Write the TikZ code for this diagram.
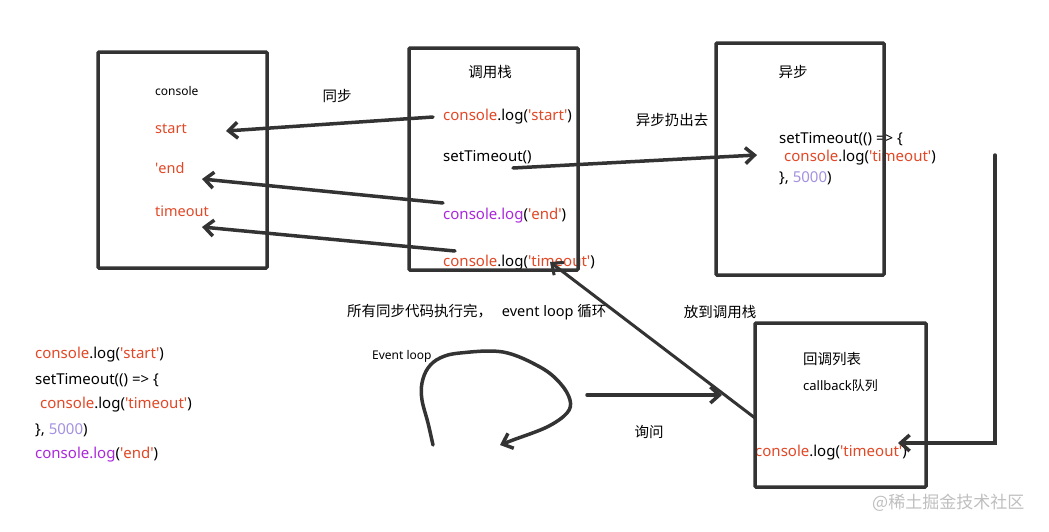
\documentclass[tikz,border=0pt]{standalone}
\usepackage{fontspec}
\setmainfont{Noto Sans}
\newfontfamily\cjk{Noto Sans CJK SC}
\usetikzlibrary{arrows.meta}
\definecolor{jsred}{RGB}{226,72,38}
\definecolor{jspurple}{RGB}{170,40,220}
\definecolor{jsnum}{RGB}{165,145,225}
\definecolor{ink}{RGB}{51,51,51}
\newcommand{\q}{\textquotesingle}
\newcommand{\jslog}[1]{\textcolor{jsred}{console}.log(\textcolor{jsred}{\q#1\q})}

\begin{document}
\begin{tikzpicture}[x=1pt,y=-1pt,
  box/.style={draw=ink,line width=3.5pt,rounded corners=1pt},
  arr/.style={draw=ink,line width=3.5pt,line cap=round,-{Straight Barb[length=9pt,width=16pt]}},
  code/.style={anchor=west,inner sep=0pt,font=\fontsize{15}{18}\selectfont},
  result/.style={anchor=west,inner sep=0pt,text=jsred,font=\fontsize{14.5}{17}\selectfont},
  zh/.style={inner sep=0pt,font=\cjk\fontsize{14.5}{17}\selectfont},
  small/.style={anchor=west,inner sep=0pt,font=\fontsize{12}{14}\selectfont}]
  \useasboundingbox[fill=white] (0,0) rectangle (1049,531);
  % console
  \node[small] (con) at (155,91) {console};
  \node[result] (outStart) at (155,129) {start};
  \node[result] (outEnd) at (155,168) {\q end};
  \node[result] (outTimeout) at (155,211) {timeout};
  \node[zh] (syncLabel) at (337,96) {同步};
  % call stack
  \node[zh] (stackTitle) at (490,72) {调用栈};
  \node[code] (stStart) at (443,117) {\jslog{start}};
  \node[code] (stSet) at (443,157) {setTimeout()};
  \node[code] (stEnd) at (443,216) {\textcolor{jspurple}{console.log}(\textcolor{jsred}{\q end\q})};
  \node[code] (stTimeout) at (443,263) {\jslog{timeout}};
  % async
  \node[zh] (asyncTitle) at (793,72) {异步};
  \node[zh] (throwLabel) at (672,120) {异步扔出去};
  \node[code] (asA) at (779,139) {setTimeout(() => \{};
  \node[code] (asB) at (784,158) {\jslog{timeout}};
  \node[code] (asC) at (779,178) {\}, \textcolor{jsnum}{5000})};
  % event loop
  \node[zh,anchor=west] (allDone) at (347,312) {所有同步代码执行完，\ \ \ \fontspec{Noto Sans}event loop \cjk 循环};
  \node[zh] (putBack) at (720,312) {放到调用栈};
  \node[small] (loopLabel) at (372,356) {Event loop};
  \node[zh] (ask) at (649,432) {询问};
  % callback queue
  \node[zh,anchor=west] (queueTitle) at (803,359) {回调列表};
  \node[small,font=\fontsize{13}{16}\selectfont] (queueSub) at (803,386) {callback{\cjk 队列}};
  \node[code] (queueLog) at (755,453) {\jslog{timeout}};
  % source
  \node[code] (code1) at (35,355) {\jslog{start}};
  \node[code] (code2) at (35,380) {setTimeout(() => \{};
  \node[code] (code3) at (40,405) {\jslog{timeout}};
  \node[code] (code4) at (35,430) {\}, \textcolor{jsnum}{5000})};
  \node[code] (code5) at (35,455) {\textcolor{jspurple}{console.log}(\textcolor{jsred}{\q end\q})};
  \node[zh,anchor=west,text=gray!50,font=\cjk\fontsize{17}{20}\selectfont] (mark) at (872,503) {@稀土掘金技术社区};
  % boxes
  \draw[box] (98,52) rectangle (267,268);
  \draw[box] (409,48) rectangle (578,270);
  \draw[box] (716,43) rectangle (884,275);
  \draw[box] (755,323) rectangle (926,487);
  % arrows
  \coordinate (a1s) at (433,117); \coordinate (a1e) at (226,131);
  \coordinate (a2s) at (443,203); \coordinate (a2e) at (202,179);
  \coordinate (a3s) at (455,251); \coordinate (a3e) at (202,227);
  \coordinate (a4s) at (513,168); \coordinate (a4e) at (757,155);
  \coordinate (cbTop) at (995,155); \coordinate (cbIn) at (898,443);
  \coordinate (upS) at (755,418); \coordinate (upE) at (550,262);
  \coordinate (askS) at (587,395); \coordinate (askE) at (722,395);
  \draw[arr] (a1s) -- (a1e);
  \draw[arr] (a2s) -- (a2e);
  \draw[arr] (a3s) -- (a3e);
  \draw[arr] (a4s) -- (a4e);
  \draw[arr] (cbTop) |- (cbIn);
  \draw[arr,line width=3pt] (upS) -- (upE);
  \draw[arr] (askS) -- (askE);
  \draw[arr] plot[smooth,tension=0.6] coordinates {(433,445) (428,423) (422,400) (422,383) (428,368) (440,358) (460,353) (503,352) (540,367) (560,383) (570,400) (567,413) (547,427) (513,440) (500,445)};
\end{tikzpicture}
\end{document}
